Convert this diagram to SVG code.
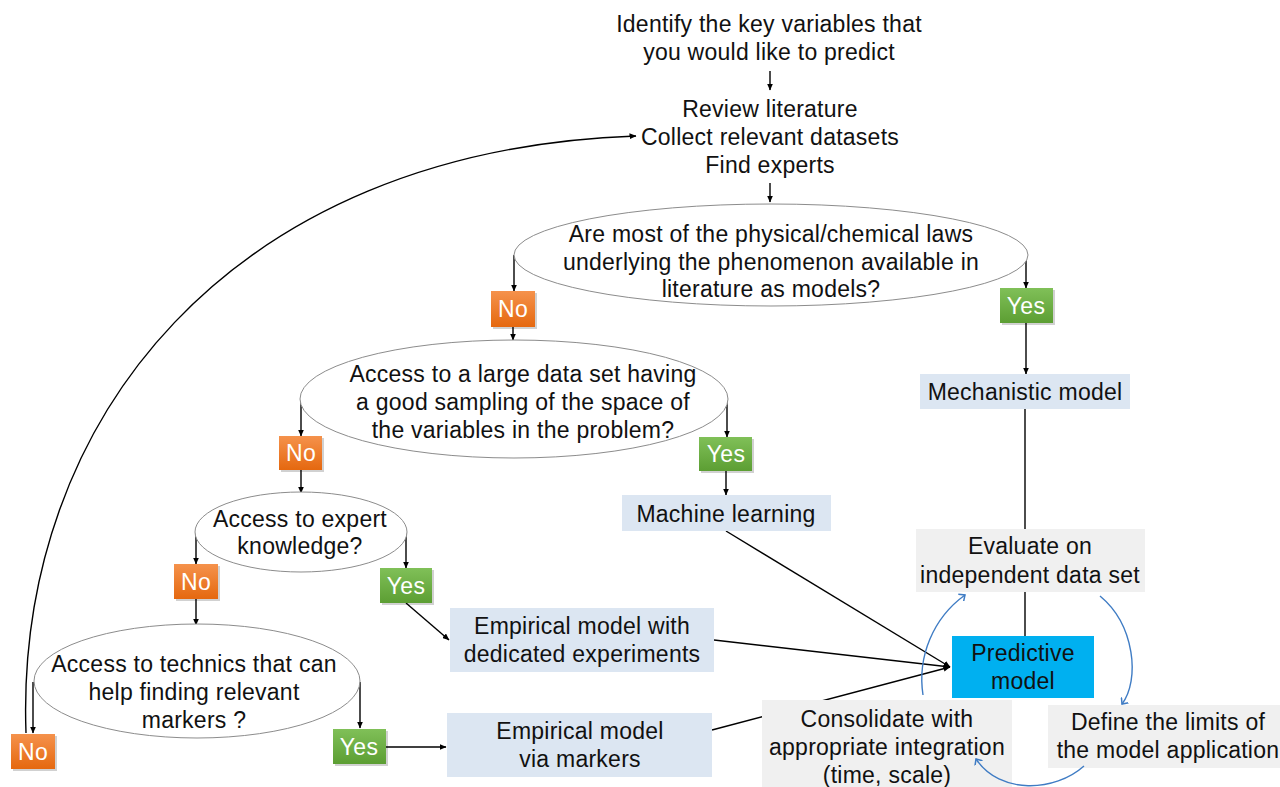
<svg xmlns="http://www.w3.org/2000/svg" width="1280" height="787" viewBox="0 0 1280 787">
<defs>
<linearGradient id="gNo" x1="0" y1="0" x2="0" y2="1"><stop offset="0" stop-color="#f5924c"/><stop offset="1" stop-color="#e5680f"/></linearGradient>
<linearGradient id="gYes" x1="0" y1="0" x2="0" y2="1"><stop offset="0" stop-color="#80c058"/><stop offset="1" stop-color="#5c9e33"/></linearGradient>
<marker id="ah" markerWidth="7" markerHeight="6" refX="6.5" refY="3" orient="auto" markerUnits="userSpaceOnUse"><path d="M0,0 L7,3 L0,6 z" fill="#000"/></marker>
<marker id="ahb" markerWidth="10" markerHeight="10" refX="5" refY="5" orient="auto" markerUnits="userSpaceOnUse"><path d="M0,0.5 L5,5 L0,9.5" fill="none" stroke="#3f7cc4" stroke-width="1.5"/></marker>
</defs>
<style>
text{font-family:"Liberation Sans",Arial,sans-serif;font-size:23px;letter-spacing:0.25px;fill:#111;text-anchor:middle}
.lab{fill:#fff}
.ell{fill:#fff;stroke:#8c8c8c;stroke-width:1}
.no{fill:url(#gNo)}
.yes{fill:url(#gYes)}
.sh{fill:#000;opacity:0.18}
.blue{fill:#dce6f2}
.grey{fill:#f0f0f0}
.pred{fill:#00b0f0}
.c{fill:none;stroke:#000;stroke-width:1.4}
.ca{fill:none;stroke:#000;stroke-width:1.4;marker-end:url(#ah)}
.cb{fill:none;stroke:#3f7cc4;stroke-width:1.4;marker-end:url(#ahb)}
</style>
<rect width="1280" height="787" fill="#fff"/>

<g id="connectors">
<path class="ca" d="M770 71 V90"/>
<path class="ca" d="M770 183 V202"/>
<path class="ca" d="M514 255 V291"/>
<path class="ca" d="M1026 255 V288"/>
<path class="ca" d="M513 327 V340"/>
<path class="ca" d="M1026 323 V374"/>
<path class="c" d="M1025 409 V529"/>
<path class="c" d="M1025 592 V636"/>
<path class="ca" d="M301 398 V436"/>
<path class="ca" d="M727 398 V437"/>
<path class="ca" d="M301 470 V493"/>
<path class="ca" d="M726 471 V495"/>
<path class="ca" d="M196 532 V564"/>
<path class="ca" d="M406 532 V568"/>
<path class="ca" d="M196 599 V625"/>
<path class="ca" d="M406 603 L449 640"/>
<path class="ca" d="M33 682 V733"/>
<path class="ca" d="M360 682 V728"/>
<path class="ca" d="M386 747 H446"/>
<path class="ca" d="M726 531 L950 667"/>
<path class="ca" d="M714 640 L950 667"/>
<path class="ca" d="M712 730 L950 667"/>
<path class="ca" d="M26 733 C15 420 230 150 636 136"/>
</g>

<g id="n-identify">
<text x="769" y="32">Identify the key variables that</text>
<text x="769" y="60">you would like to predict</text>
</g>
<g id="n-review">
<text x="770" y="117">Review literature</text>
<text x="770" y="145">Collect relevant datasets</text>
<text x="770" y="173">Find experts</text>
</g>

<g id="n-q1">
<ellipse class="ell" cx="771" cy="255" rx="257" ry="51"/>
<text x="771" y="242">Are most of the physical/chemical laws</text>
<text x="771" y="270">underlying the phenomenon available in</text>
<text x="771" y="297">literature as models?</text>
</g>
<g id="n-no1">
<rect class="sh" x="493" y="293" width="44" height="36"/>
<rect class="no" x="491" y="291" width="44" height="36"/>
<text class="lab" x="513" y="317">No</text>
</g>
<g id="n-yes1">
<rect class="sh" x="1002" y="290" width="53" height="35"/>
<rect class="yes" x="1000" y="288" width="53" height="35"/>
<text class="lab" x="1026" y="314">Yes</text>
</g>
<g id="n-mech">
<rect class="blue" x="920" y="374" width="210" height="35"/>
<text x="1025" y="400">Mechanistic model</text>
</g>

<g id="n-q2">
<ellipse class="ell" cx="514" cy="399" rx="214" ry="59"/>
<text x="523" y="382">Access to a large data set having</text>
<text x="523" y="410">a good sampling of the space of</text>
<text x="523" y="438">the variables in the problem?</text>
</g>
<g id="n-no2">
<rect class="sh" x="281" y="438" width="43" height="34"/>
<rect class="no" x="279" y="436" width="43" height="34"/>
<text class="lab" x="301" y="461">No</text>
</g>
<g id="n-yes2">
<rect class="sh" x="701" y="439" width="53" height="34"/>
<rect class="yes" x="699" y="437" width="53" height="34"/>
<text class="lab" x="726" y="462">Yes</text>
</g>
<g id="n-ml">
<rect class="blue" x="622" y="495" width="209" height="36"/>
<text x="726" y="522">Machine learning</text>
</g>

<g id="n-q3">
<ellipse class="ell" cx="301" cy="532" rx="106" ry="40"/>
<text x="300" y="527">Access to expert</text>
<text x="300" y="554">knowledge?</text>
</g>
<g id="n-no3">
<rect class="sh" x="176" y="566" width="44" height="35"/>
<rect class="no" x="174" y="564" width="44" height="35"/>
<text class="lab" x="196" y="590">No</text>
</g>
<g id="n-yes3">
<rect class="sh" x="382" y="570" width="52" height="35"/>
<rect class="yes" x="380" y="568" width="52" height="35"/>
<text class="lab" x="406" y="594">Yes</text>
</g>
<g id="n-empexp">
<rect class="blue" x="450" y="608" width="264" height="64"/>
<text x="582" y="634">Empirical model with</text>
<text x="582" y="662">dedicated experiments</text>
</g>

<g id="n-q4">
<ellipse class="ell" cx="197" cy="681" rx="163" ry="57"/>
<text x="194" y="672">Access to technics that can</text>
<text x="194" y="700">help finding relevant</text>
<text x="194" y="728">markers ?</text>
</g>
<g id="n-no4">
<rect class="sh" x="13" y="736" width="44" height="35"/>
<rect class="no" x="11" y="734" width="44" height="35"/>
<text class="lab" x="33" y="760">No</text>
</g>
<g id="n-yes4">
<rect class="sh" x="335" y="731" width="53" height="35"/>
<rect class="yes" x="333" y="729" width="53" height="35"/>
<text class="lab" x="359" y="755">Yes</text>
</g>
<g id="n-empmark">
<rect class="blue" x="447" y="713" width="265" height="64"/>
<text x="580" y="739">Empirical model</text>
<text x="580" y="767">via markers</text>
</g>

<g id="n-eval">
<rect class="grey" x="916" y="529" width="229" height="63"/>
<text x="1030" y="554">Evaluate on</text>
<text x="1030" y="583">independent data set</text>
</g>
<g id="n-pred">
<rect class="pred" x="952" y="636" width="142" height="62"/>
<text x="1023" y="661">Predictive</text>
<text x="1023" y="689">model</text>
</g>
<g id="n-consol">
<rect class="grey" x="762" y="700" width="250" height="87"/>
<text x="887" y="727">Consolidate with</text>
<text x="887" y="755">appropriate integration</text>
<text x="887" y="783">(time, scale)</text>
</g>
<g id="n-limits">
<rect class="grey" x="1048" y="705" width="232" height="63"/>
<text x="1168" y="730">Define the limits of</text>
<text x="1168" y="758">the model application</text>
</g>

<g id="cycle-connectors">
<path class="cb" d="M923 695 A104 104 0 0 1 965 595"/>
<path class="cb" d="M1100 596 C1135 625 1140 680 1122 704"/>
<path class="cb" d="M1084 766 C1055 792 1000 795 976 759"/>
</g>
</svg>
